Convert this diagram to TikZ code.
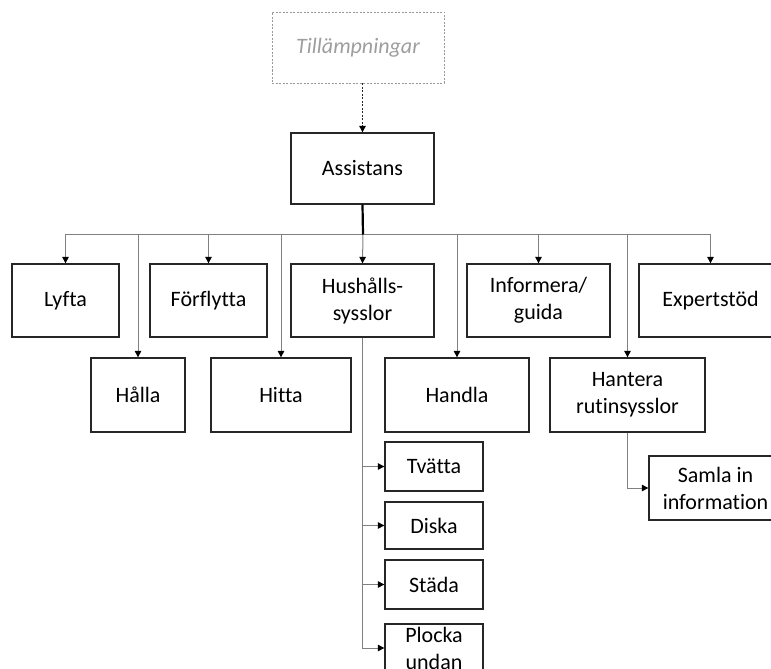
\documentclass[tikz,border=0pt]{standalone}
\usepackage{fontspec}
\setmainfont[Ligatures=NoCommon]{Carlito}
\usetikzlibrary{arrows.meta}
\begin{document}
\begin{tikzpicture}[x=1pt,y=-1pt,
  box/.style={draw=black!85,line width=1.3pt,rectangle,inner sep=0pt,
    align=center,font=\fontsize{22}{27}\selectfont,text=black},
  ghost/.style={draw=black!40,dashed,dash pattern=on 2pt off 1.5pt,line width=0.9pt,
    rectangle,inner sep=0pt,font=\fontsize{22}{27}\selectfont\itshape,text=black!38},
  conn/.style={draw=black!50,line width=1pt,-{Triangle[length=6.5pt,width=6.5pt,color=black]}},
  dashconn/.style={draw=black!85,line width=0.9pt,dash pattern=on 2pt off 1.5pt,
    -{Triangle[length=6.5pt,width=6.5pt,color=black]}},
  stem/.style={draw=black,line width=2.2pt}]
\useasboundingbox (0,0) rectangle (771,669);
\clip (0,0) rectangle (771,669);
\fill[white] (0,0) rectangle (771,669);

% top of the tree
\node[ghost,minimum width=172pt,minimum height=71pt] (till) at (358,47.5) {Tillämpningar};
\node[box,minimum width=143pt,minimum height=71pt] (assist) at (362.5,168.5) {Assistans};

% first row
\node[box,minimum width=107pt,minimum height=73pt] (lyfta) at (65.5,300.5) {Lyfta};
\node[box,minimum width=117pt,minimum height=73pt] (forfl) at (208.5,300.5) {Förflytta};
\node[box,minimum width=143pt,minimum height=73pt] (hush) at (362.5,300.5) {Hushålls-\\sysslor};
\node[box,minimum width=143pt,minimum height=73pt] (info) at (538.5,300.5) {Informera/\\guida};
\node[box,minimum width=143pt,minimum height=73pt] (expert) at (710.5,300.5) {Expertstöd};

% second row
\node[box,minimum width=94pt,minimum height=74pt] (halla) at (138,395) {Hålla};
\node[box,minimum width=140pt,minimum height=74pt] (hitta) at (281,395) {Hitta};
\node[box,minimum width=144pt,minimum height=74pt] (handla) at (457,395) {Handla};
\node[box,minimum width=155pt,minimum height=74pt] (hantera) at (627.5,395) {Hantera\\rutinsysslor};

% household chores
\node[box,minimum width=98pt,minimum height=49pt] (tvatta) at (434,466.5) {Tvätta};
\node[box,minimum width=98pt,minimum height=47pt] (diska) at (434,525.5) {Diska};
\node[box,minimum width=98pt,minimum height=49pt] (stada) at (434,584.5) {Städa};
\node[box,minimum width=98pt,minimum height=48pt] (plocka) at (434,648) {Plocka\\undan};

% routine chores
\node[box,minimum width=133pt,minimum height=64pt] (samla) at (715.5,488) {Samla in\\information};

% connectors
\draw[dashconn] (assist.north |- till.south) -- (assist.north);
\coordinate (bus) at (363,234.5);
\draw[conn] (bus) -| (lyfta.north);
\draw[conn] (bus) -| (halla.north);
\draw[conn] (bus) -| (forfl.north);
\draw[conn] (bus) -| (hitta.north);
\draw[conn] (bus) -- (hush.north);
\draw[conn] (bus) -| (handla.north);
\draw[conn] (bus) -| (info.north);
\draw[conn] (bus) -| (hantera.north);
\draw[conn] (bus) -| (expert.north);
\draw[stem] (assist.south) -- (bus);

\draw[conn] (hush.south) |- (tvatta.west);
\draw[conn] (hush.south) |- (diska.west);
\draw[conn] (hush.south) |- (stada.west);
\draw[conn] (hush.south) |- (plocka.west);

\draw[conn] (hantera.south) |- (samla.west);
\end{tikzpicture}
\end{document}
